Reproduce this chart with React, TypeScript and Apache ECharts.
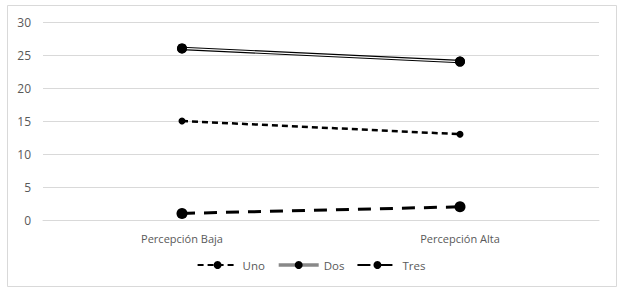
import React, { useEffect, useRef } from "react";
import * as echarts from "echarts";

const categories = ["Percepción Baja", "Percepción Alta"];
const uno = [15, 13];
const dos = [26, 24];
const tres = [1, 2];
const yTicks = { min: 0, max: 30, interval: 5 };

export default function App() {
  const ref = useRef<HTMLDivElement>(null);
  useEffect(() => {
    const chart = echarts.init(ref.current!, null, { renderer: "svg" });
    const font = "Open Sans";
    chart.setOption({
      animation: false,
      textStyle: { fontFamily: font },
      graphic: [
        {
          type: "rect",
          shape: { x: 7.5, y: 5.5, width: 609, height: 281 },
          style: { fill: "none", stroke: "#d9d9d9", lineWidth: 1 },
          silent: true,
        },
      ],
      grid: { left: 43, right: 23, top: 22, bottom: 74 },
      legend: {
        bottom: 18,
        left: "center",
        itemWidth: 40,
        itemHeight: 10,
        itemGap: 12,
        textStyle: { color: "#595959", fontSize: 11.5, fontFamily: font },
        data: [
          { name: "Uno" },
          { name: "Dos", lineStyle: { color: "#888", width: 3.5 } },
          { name: "Tres" },
        ],
      },
      xAxis: {
        type: "category",
        data: categories,
        boundaryGap: true,
        axisLine: { lineStyle: { color: "#d9d9d9" } },
        axisTick: { show: false },
        axisLabel: { color: "#595959", fontSize: 11, margin: 13 },
      },
      yAxis: {
        type: "value",
        min: yTicks.min,
        max: yTicks.max,
        interval: yTicks.interval,
        axisLine: { show: false },
        axisTick: { show: false },
        axisLabel: { color: "#595959", fontSize: 12, margin: 12 },
        splitLine: { lineStyle: { color: "#d9d9d9" } },
      },
      series: [
        {
          name: "Uno",
          type: "line",
          data: uno,
          z: 2,
          symbol: "circle",
          symbolSize: 7,
          itemStyle: { color: "#000" },
          lineStyle: { color: "#000", width: 2.5, type: [6, 4] },
        },
        {
          name: "Dos",
          type: "line",
          data: dos,
          z: 2,
          symbol: "circle",
          symbolSize: 10,
          itemStyle: { color: "#000" },
          lineStyle: { color: "#000", width: 3.5 },
        },
        {
          name: "DosInner",
          type: "line",
          data: dos,
          z: 3,
          showSymbol: false,
          lineStyle: { color: "#fff", width: 1.2 },
        },
        {
          name: "DosPts",
          type: "line",
          data: dos,
          z: 4,
          symbol: "circle",
          symbolSize: 10,
          itemStyle: { color: "#000" },
          lineStyle: { width: 0 },
        },
        {
          name: "Tres",
          type: "line",
          data: tres,
          z: 2,
          symbol: "circle",
          symbolSize: 11,
          itemStyle: { color: "#000" },
          lineStyle: { color: "#000", width: 3, type: [13, 9] },
        },
      ],
    });
    return () => chart.dispose();
  }, []);
  return (
    <div
      ref={ref}
      style={{ position: "fixed", left: 0, top: 0, width: 622, height: 294, background: "#fff" }}
    />
  );
}
